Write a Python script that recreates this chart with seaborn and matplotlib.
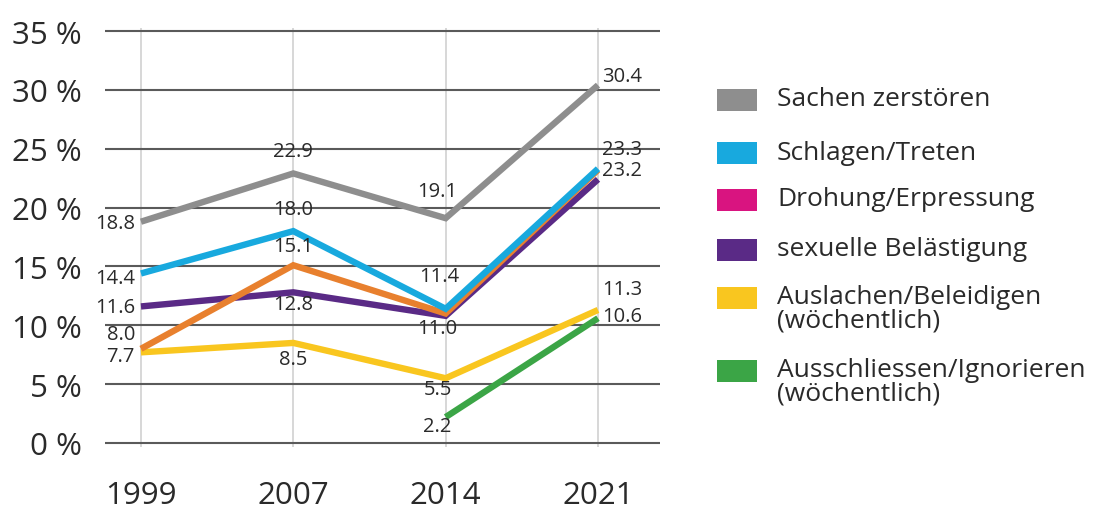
import matplotlib.pyplot as plt
import pandas as pd
import seaborn as sns
from matplotlib.patches import Rectangle

# %%
# data (percent)

years = ["1999", "2007", "2014", "2021"]

sachen = [18.8, 22.9, 19.1, 30.4]
schlagen = [14.4, 18.0, 11.4, 23.3]
drohung = [8.0, 15.1, 11.0, 23.2]
sexuell = [11.6, 12.8, 10.8, 22.4]
auslachen = [7.7, 8.5, 5.5, 11.3]
ausschliessen = [None, None, 2.2, 10.6]

# which values carry a printed label
shown_sexuell = [True, True, False, False]

names = [
    "Sachen zerstören",
    "Schlagen/Treten",
    "Drohung/Erpressung",
    "sexuelle Belästigung",
    "Auslachen/Beleidigen\n(wöchentlich)",
    "Ausschliessen/Ignorieren\n(wöchentlich)",
]
values = [sachen, schlagen, drohung, sexuell, auslachen, ausschliessen]

# line colours (orange line in the chart) vs legend swatches
line_colors = ["#8e8e8e", "#18a9de", "#e8802e", "#5a2a86", "#f9c61f", "#3ba546"]
legend_colors = ["#8e8e8e", "#18a9de", "#d91480", "#5a2a86", "#f9c61f", "#3ba546"]

# %%
rows = []
for name, vals in zip(names, values):
    for i, v in enumerate(vals):
        if v is not None:
            rows.append({"pos": i, "value": v, "series": name})
df = pd.DataFrame(rows)

sns.set_style("white")
plt.rcParams["font.family"] = ["Open Sans", "DejaVu Sans"]
text_col = "#2a2a2a"

fig = plt.figure(figsize=(10.97, 5.10), dpi=100)
W, H = 1097, 510
x0, x1 = 105, 660
y_top, y_bot = 28.5, 447.5
ax = fig.add_axes([x0 / W, 1 - y_bot / H, (x1 - x0) / W, (y_bot - y_top) / H])

draw_order = [names[0], names[4], names[5], names[3], names[2], names[1]]
palette = dict(zip(names, line_colors))
sns.lineplot(
    data=df, x="pos", y="value", hue="series", hue_order=draw_order,
    palette=palette, linewidth=4.6, legend=False, sort=False, ax=ax,
)
for ln in ax.lines:
    ln.set_solid_capstyle("butt")
    ln.set_solid_joinstyle("miter")
    ln.set_clip_on(False)

ax.set_xlim(-0.236, 3.407)
ax.set_ylim(-0.3, 35.3)
ax.set_xticks(range(len(years)), years)
ax.set_yticks(range(0, 40, 5), ["{} %".format(t) for t in range(0, 40, 5)])
ax.set_xlabel("")
ax.set_ylabel("")
for s in ax.spines.values():
    s.set_visible(False)
ax.yaxis.grid(True, color="#5a5a5a", linewidth=1.5)
ax.xaxis.grid(True, color="#d4d4d4", linewidth=1.3)
ax.set_axisbelow(True)
ax.tick_params(axis="y", length=0, labelsize=22.5, pad=17, labelcolor=text_col)
ax.tick_params(axis="x", length=0, labelsize=22.5, pad=24, labelcolor=text_col)

# %%
# value labels: offsets in pixels (dx, dy)
offsets = [
    [(-6, -1), (0, 22), (-8, 27), (4, 9)],
    [(-6, -5), (0, 22), (-6, 33), (4, 20)],
    [(-6, 15), (0, 19), (-8, -14), (4, 0)],
    [(-6, -1), (0, -12), None, None],
    [(-6, -4), (0, -16), (-8, -11), (4, 21)],
    [None, None, (-8, -9), (4, 2)],
]
has = ["right", "center", "center", "left"]

for k, (vals, offs) in enumerate(zip(values, offsets)):
    for i, v in enumerate(vals):
        if v is None or offs[i] is None:
            continue
        if vals is sexuell and not shown_sexuell[i]:
            continue
        ax.annotate(
            "{:.1f}".format(v), (i, v), xytext=offs[i], textcoords="offset pixels",
            ha=has[i], va="center", fontsize=14.5, color=text_col,
            annotation_clip=False,
        )

# %%
# legend drawn by hand
row_y = [101, 154, 201, 251, 299, 372]
for name, col, yc in zip(names, legend_colors, row_y):
    fig.patches.append(
        Rectangle((717 / W, 1 - (yc + 11) / H), 40 / W, 22 / H,
                  transform=fig.transFigure, facecolor=col, edgecolor="none")
    )
    for j, line in enumerate(name.split("\n")):
        fig.text(777 / W, 1 - (yc - 1 + j * 23) / H, line, ha="left", va="center",
                 fontsize=19, color=text_col)

fig.savefig("out.png", dpi=100)
